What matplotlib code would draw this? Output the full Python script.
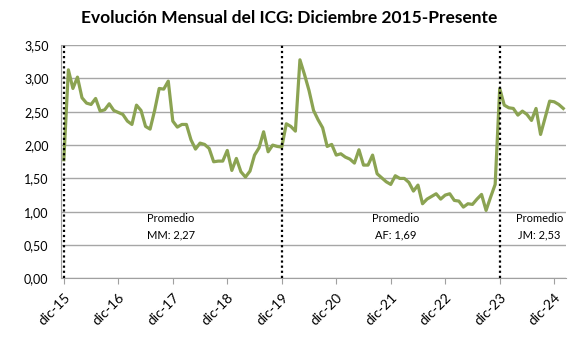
import matplotlib.pyplot as plt
import numpy as np

# ICG mensual desde dic-15
icg = [
    1.78, 3.13, 2.85, 3.02, 2.71, 2.63, 2.61, 2.70, 2.51, 2.53, 2.62, 2.52,
    2.49, 2.46, 2.36, 2.31, 2.60, 2.52, 2.28, 2.24, 2.52, 2.85, 2.84, 2.96,
    2.36, 2.27, 2.31, 2.31, 2.08, 1.94, 2.03, 2.01, 1.95, 1.75, 1.76, 1.76,
    1.92, 1.62, 1.80, 1.60, 1.52, 1.61, 1.85, 1.96, 2.20, 1.90, 2.00, 1.98,
    1.97, 2.32, 2.28, 2.21, 3.28, 3.06, 2.82, 2.52, 2.38, 2.26, 1.98, 2.01,
    1.85, 1.87, 1.82, 1.79, 1.73, 1.93, 1.70, 1.70, 1.85, 1.57, 1.51, 1.45,
    1.41, 1.54, 1.50, 1.50, 1.44, 1.31, 1.40, 1.12, 1.19, 1.23, 1.27, 1.19,
    1.25, 1.27, 1.17, 1.16, 1.07, 1.12, 1.11, 1.19, 1.26, 1.02, 1.22, 1.41,
    2.85, 2.60, 2.56, 2.55, 2.45, 2.51, 2.46, 2.37, 2.55, 2.16, 2.41, 2.66,
    2.65, 2.61, 2.55,
]
tick_labels = ['dic-15', 'dic-16', 'dic-17', 'dic-18', 'dic-19',
               'dic-20', 'dic-21', 'dic-22', 'dic-23', 'dic-24']
cambios = [0, 48, 96]  # inicio de cada gestión
promedios = ['Promedio\nMM: 2,27', 'Promedio\nAF: 1,69', 'Promedio\nJM: 2,53']
promedio_x = [23.6, 73.0, 104.7]

plt.rcParams['font.family'] = ['Lato', 'DejaVu Sans']

meses = np.arange(len(icg))

fig = plt.figure(figsize=(5.82, 3.42), dpi=100)
ax = fig.add_axes([0.105, 0.186, 0.8675, 0.682])

ax.plot(meses, icg, color='#8BA352', linewidth=2.3, zorder=3)

for m in cambios:
    ax.axvline(m, color='black', linestyle=(0, (1, 1.3)), linewidth=1.6, zorder=4)

for x, txt in zip(promedio_x, promedios):
    ax.text(x, 0.78, txt, ha='center', va='center', fontsize=8, linespacing=1.6)

ax.set_xlim(-0.6, 110.6)
ax.set_ylim(0, 3.5)
ax.set_yticks(np.arange(0, 3.51, 0.5))
ax.set_yticklabels([f'{v:.2f}'.replace('.', ',') for v in np.arange(0, 3.51, 0.5)])
ax.set_xticks(np.arange(0, 109, 12))
ax.set_xticklabels(tick_labels, rotation=45, ha='right', rotation_mode='anchor')
ax.tick_params(axis='y', labelsize=9, length=0, pad=9)
ax.tick_params(axis='x', labelsize=10, length=4, pad=5, color='#A0A0A0')

ax.grid(axis='y', color='#A6A6A6', linewidth=1)
ax.set_axisbelow(True)
for s in ['top', 'right']:
    ax.spines[s].set_visible(False)
ax.spines['left'].set_color('#A0A0A0')
ax.spines['bottom'].set_color('#A0A0A0')

fig.text(0.497, 0.947, 'Evolución Mensual del ICG: Diciembre 2015-Presente',
         ha='center', va='center', fontsize=12.5, fontweight='bold')

plt.savefig('out.png', dpi=100)
